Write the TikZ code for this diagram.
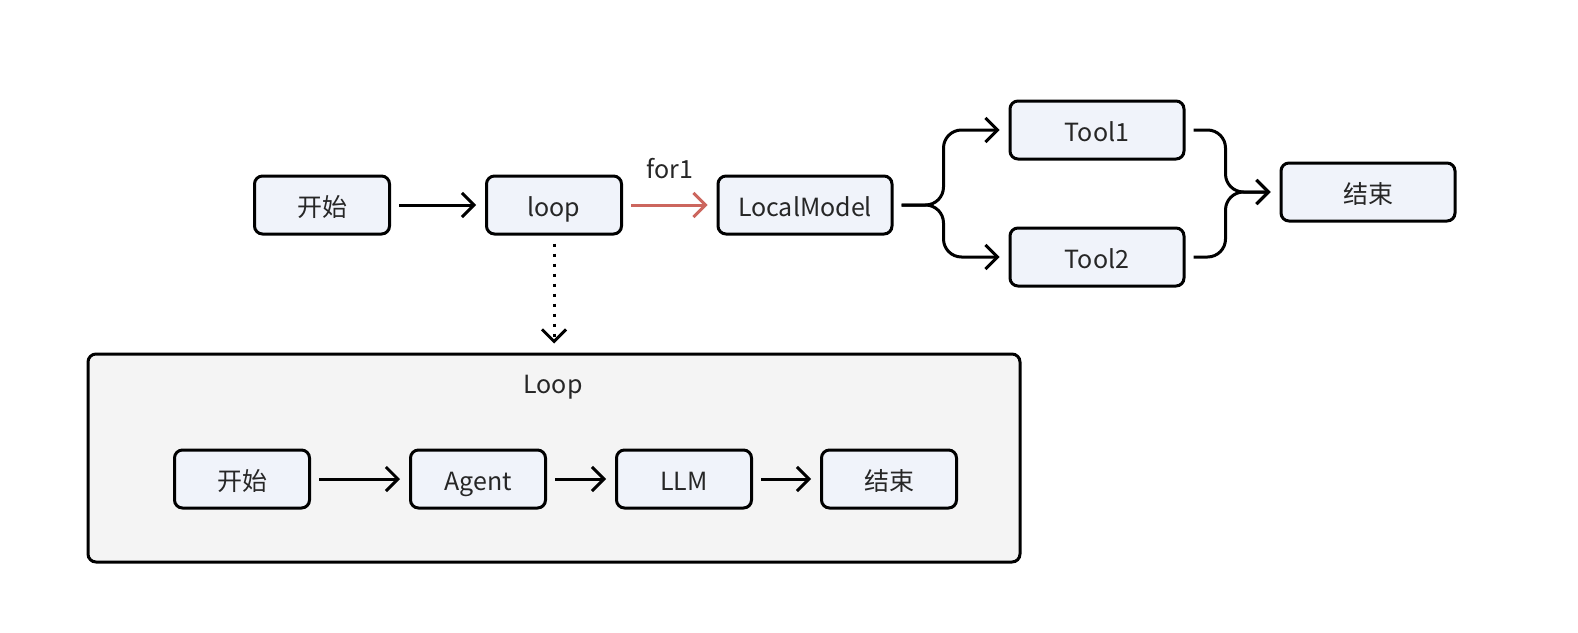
\documentclass[tikz,border=0pt]{standalone}
\usepackage{fontspec}
\setmainfont{Noto Sans CJK SC}
\usepackage{tikz}
\usetikzlibrary{arrows.meta,calc,positioning}
\definecolor{boxfill}{RGB}{240,243,250}
\definecolor{loopfill}{RGB}{244,244,244}
\definecolor{forred}{RGB}{204,102,94}
\definecolor{inkgray}{RGB}{38,38,38}
\tikzset{
  box/.style   = {draw, line width=1.5pt, fill=boxfill, text=inkgray, minimum width=67.5pt,
                  minimum height=29pt, rounded corners=4pt, text height=12pt, text depth=0.5pt,
                  font=\fontsize{12.5}{15}\selectfont},
  widebox/.style = {box, minimum width=87pt},
  frame/.style = {draw, line width=1.5pt, fill=loopfill, rounded corners=4pt},
  flow/.style  = {-{Straight Barb[length=6pt, width=12pt]}, line width=1.5pt,
                  shorten <=4pt, shorten >=4.5pt},
  redflow/.style = {flow, draw=forred},
  branch/.style  = {flow, rounded corners=9pt},
  dotflow/.style = {flow, dash pattern=on 1.5pt off 3.5pt},
}

\begin{document}
\begin{tikzpicture}[x=0.5pt,y=-0.5pt]
  \useasboundingbox (0,0) rectangle (1578,632);
  % top row
  \node[box]     (start) at (322,205)  {开始};
  \node[box]     (loop)  at (554,205)  {loop};
  \node[widebox] (lm)    at (805,205)  {LocalModel};
  \node[widebox] (tool1) at (1097,130) {Tool1};
  \node[widebox] (tool2) at (1097,257) {Tool2};
  \node[widebox] (end)   at (1368,192) {结束};

  \draw[flow] (start) -- (loop);
  \draw[redflow] (loop) -- node[above=9pt, text=inkgray, font=\fontsize{12.5}{15}\selectfont] (forlbl) {for1} (lm);
  \draw[branch] (lm.east) -- ++(50,0) |- (tool1.west);
  \draw[branch] (lm.east) -- ++(50,0) |- (tool2.west);
  \draw[branch] (tool1.east) -- ++(40,0) |- (end.west);
  \draw[branch] (tool2.east) -- ++(40,0) |- (end.west);

  % the loop body
  \node[frame, minimum width=466pt, minimum height=104pt] (body) at (554,458) {};
  \node[text=inkgray, font=\fontsize{12.5}{15}\selectfont] (bodylbl) at (553,387) {Loop};
  \draw[dotflow] (loop) -- (body);

  \node[box] (istart) at (242,479) {开始};
  \node[box] (agent)  at (478,479) {Agent};
  \node[box] (llm)    at (684,479) {LLM};
  \node[box] (iend)   at (889,479) {结束};
  \draw[flow] (istart) -- (agent);
  \draw[flow] (agent) -- (llm);
  \draw[flow] (llm) -- (iend);
\end{tikzpicture}
\end{document}
